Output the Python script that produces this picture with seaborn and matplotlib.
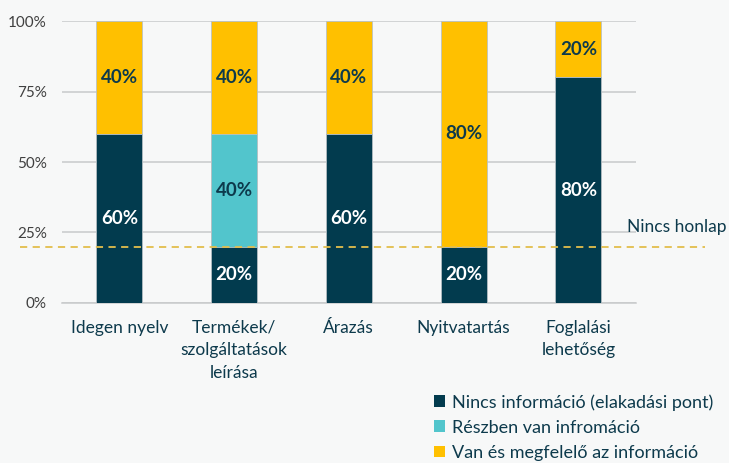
import matplotlib
matplotlib.use("Agg")
import matplotlib.pyplot as plt
import seaborn as sns
import pandas as pd
import numpy as np
from matplotlib.patches import Patch

categories = ["Idegen nyelv", "Termékek/\nszolgáltatások\nleírása", "Árazás", "Nyitvatartás", "Foglalási\nlehetőség"]
nincs = [60, 20, 60, 20, 80]
reszben = [0, 40, 0, 0, 0]
van = [40, 40, 40, 80, 20]
series_names = ["Nincs információ (elakadási pont)", "Részben van infromáció", "Van és megfelelő az információ"]
no_site_level = 20
no_site_label = "Nincs honlap"
yticks = [0, 25, 50, 75, 100]
ytick_labels = ["0%", "25%", "50%", "75%", "100%"]

colors = ["#023B4E", "#52C5CC", "#FFC000"]
label_colors = ["white", "#0D3A4C", "#0D3A4C"]
bg = "#F7F8F8"
text_dark = "#0D3A4C"

sns.set_theme(style="white")
plt.rcParams["font.family"] = ["Lato", "DejaVu Sans"]

fig = plt.figure(figsize=(7.29, 4.63), dpi=100, facecolor=bg)
ax = fig.add_axes([0.085, 0.3456, 0.787, 0.609])
ax.set_facecolor(bg)

df = pd.DataFrame({"cat": categories, "n": nincs, "r": reszben, "v": van})
df["c1"] = df["n"]
df["c2"] = df["n"] + df["r"]
df["c3"] = df["n"] + df["r"] + df["v"]

for col, color in zip(["c3", "c2", "c1"], colors[::-1]):
    sns.barplot(data=df, x="cat", y=col, color=color, width=0.40, ax=ax,
                edgecolor="#B9C2C6", linewidth=0.6, saturation=1, zorder=3)

# labels
for i in range(len(categories)):
    segs = [nincs[i], reszben[i], van[i]]
    bottom = 0
    for j, v in enumerate(segs):
        if v > 0:
            ax.text(i, bottom + v / 2, f"{v}%", ha="center", va="center",
                    color=label_colors[j], fontsize=13.5, fontweight="bold", zorder=5)
        bottom += v

ax.set_ylim(0, 100)
ax.set_xlim(-0.5, len(categories) - 0.5)
ax.set_yticks(yticks)
ax.set_yticklabels(ytick_labels)
ax.set_xticks(range(len(categories)))
ax.set_xticklabels(categories, linespacing=1.5)
ax.yaxis.grid(True, color="#C8CACB", linewidth=1.1, zorder=0)
ax.set_axisbelow(True)
for s in ["top", "right", "left"]:
    ax.spines[s].set_visible(False)
ax.spines["bottom"].set_color("#C8CACB")
ax.spines["bottom"].set_linewidth(1.1)
ax.tick_params(axis="y", length=0, pad=11, labelsize=11, labelcolor="#404040")
ax.tick_params(axis="x", length=0, pad=12, labelsize=12.5, labelcolor=text_dark)
ax.set_xlabel("")
ax.set_ylabel("")

# Nincs honlap dashed line
ax.plot([-0.073, 1.12], [no_site_level, no_site_level], transform=ax.get_yaxis_transform(),
        linestyle=(0, (4, 3)), color="#E2BE4C", linewidth=1.3, clip_on=False, zorder=4)
ax.text(1.158, 24.0, no_site_label, transform=ax.get_yaxis_transform(), ha="right", va="bottom",
        fontsize=12.5, color=text_dark)

handles = [Patch(facecolor=c, edgecolor="none") for c in colors]
leg = fig.legend(handles, series_names, loc="upper left", bbox_to_anchor=(0.596, 1 - 394 / 463),
                 bbox_transform=fig.transFigure, frameon=False, fontsize=13,
                 handlelength=0.6, handleheight=0.6, handletextpad=0.35,
                 labelspacing=0.5, borderaxespad=0, borderpad=0)
for t in leg.get_texts():
    t.set_color(text_dark)

fig.savefig("out.png", dpi=100, facecolor=bg)
